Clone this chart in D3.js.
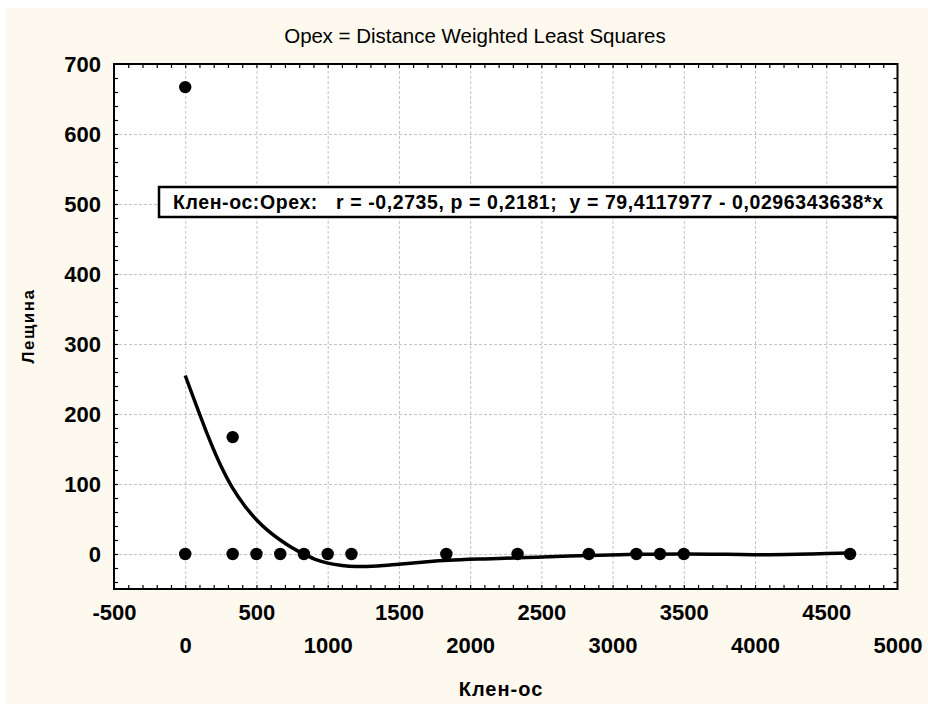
<!DOCTYPE html>
<html><head><meta charset="utf-8">
<script src="https://cdn.jsdelivr.net/npm/d3@7"></script>
<style>body{margin:0;background:#fff}svg{display:block}</style>
</head><body><svg id="c" width="928" height="704"></svg>
<script>
// ---- data ----
const chartTitle = "Орех = Distance Weighted Least Squares";
const xTitle = "Клен-ос";
const yTitle = "Лещина";
const legendText = "Клен-ос:Орех:   r = -0,2735, p = 0,2181;  y = 79,4117977 - 0,0296343638*x";
const pointsX = [0, 0, 333, 333, 500, 667, 833, 1000, 1167, 1833, 2333, 2833, 3167, 3333, 3500, 4667];
const pointsY = [667, 0, 167, 0, 0, 0, 0, 0, 0, 0, 0, 0, 0, 0, 0, 0];
const fitX = [0, 169, 250, 333, 417, 500, 583, 667, 750, 833, 917, 1000, 1100, 1200, 1350, 1500, 1700, 1850, 2100, 2333, 2600, 2833, 3167, 3500, 3800, 4100, 4400, 4667];
const fitY = [255, 164, 126, 94, 69, 49, 33, 20, 9, 0, -8, -13, -16.5, -18, -17, -14.5, -11, -9, -7, -5.5, -3.5, -2, -0.5, 0, -0.5, -1, 0, 1.5];
const xTicksRow1 = [-500, 500, 1500, 2500, 3500, 4500];
const xTicksRow2 = [0, 1000, 2000, 3000, 4000, 5000];
const yTicks = [0, 100, 200, 300, 400, 500, 600, 700];

// ---- layout ----
const svg = d3.select("#c");
const L = 114, R = 897.5, T = 64, B = 589;
const x = d3.scaleLinear().domain([-500, 5000]).range([L, R]);
const y = d3.scaleLinear().domain([-50, 700]).range([B, T]);
const FONT = "Liberation Sans, Arial, sans-serif";
const fmt = d => String(d);

svg.append("rect").attr("x", 0).attr("y", 0).attr("width", 928).attr("height", 704).attr("fill", "#ffffff");
svg.append("rect").attr("x", 6).attr("y", 8).attr("width", 922).attr("height", 696).attr("fill", "#fdf9ee");
svg.append("rect").attr("x", L).attr("y", T).attr("width", R - L).attr("height", B - T).attr("fill", "#ffffff");

// grid
const xGrid = d3.range(0, 5000, 500);
const grid = svg.append("g");
grid.append("g").attr("transform", `translate(0,${B})`)
  .call(d3.axisBottom(x).tickValues(xGrid).tickSize(-(B - T)).tickFormat(""))
  .call(g => g.select(".domain").remove())
  .call(g => g.selectAll("line").attr("stroke", "#c4c4c4").attr("stroke-dasharray", "3,2"));
grid.append("g").attr("transform", `translate(${L},0)`)
  .call(d3.axisLeft(y).tickValues(yTicks).tickSize(-(R - L)).tickFormat(""))
  .call(g => g.select(".domain").remove())
  .call(g => g.selectAll("line").attr("stroke", "#c4c4c4").attr("stroke-dasharray", "3,2"));

// inward ticks on all four sides
const xMinor = d3.range(-400, 5000, 100);
const yMinor = d3.range(-40, 700, 20);
function tickStyle(g) { g.select(".domain").remove(); g.selectAll("line").attr("stroke", "#000").attr("stroke-width", 1.2); }
svg.append("g").attr("transform", `translate(0,${B})`).call(d3.axisTop(x).tickValues(xMinor).tickSize(4).tickFormat("")).call(tickStyle);
svg.append("g").attr("transform", `translate(0,${T})`).call(d3.axisBottom(x).tickValues(xMinor).tickSize(4).tickFormat("")).call(tickStyle);
svg.append("g").attr("transform", `translate(${L},0)`).call(d3.axisRight(y).tickValues(yMinor).tickSize(4).tickFormat("")).call(tickStyle);
svg.append("g").attr("transform", `translate(${R},0)`).call(d3.axisLeft(y).tickValues(yMinor).tickSize(4).tickFormat("")).call(tickStyle);

// clip
svg.append("clipPath").attr("id", "clip").append("rect").attr("x", L).attr("y", T).attr("width", R - L).attr("height", B - T);
const plot = svg.append("g").attr("clip-path", "url(#clip)");

// fit curve
const fit = fitX.map((v, i) => [v, fitY[i]]);
plot.append("path").datum(fit)
  .attr("fill", "none").attr("stroke", "#000").attr("stroke-width", 3.5).attr("stroke-linecap", "butt")
  .attr("d", d3.line().x(d => x(d[0])).y(d => y(d[1])).curve(d3.curveCatmullRom.alpha(0.5)));

// points
plot.selectAll("circle.pt").data(pointsX.map((v, i) => [v, pointsY[i]])).join("circle")
  .attr("class", "pt").attr("cx", d => x(d[0])).attr("cy", d => y(d[1])).attr("r", 6.2).attr("fill", "#000");

// legend box
const lg = plot.append("g");
lg.append("rect").attr("x", 159).attr("y", 187).attr("width", 760).attr("height", 30)
  .attr("fill", "#fff").attr("stroke", "#000").attr("stroke-width", 2.5);
lg.append("text").attr("x", 173).attr("y", 208.5)
  .attr("font-family", FONT).attr("font-weight", "bold").attr("font-size", 19.5)
  .attr("textLength", 710).attr("lengthAdjust", "spacing")
  .style("white-space", "pre").attr("xml:space", "preserve").attr("fill", "#000")
  .text(legendText);

// border
svg.append("rect").attr("x", L).attr("y", T).attr("width", R - L).attr("height", B - T)
  .attr("fill", "none").attr("stroke", "#000").attr("stroke-width", 2);

// y labels
svg.append("g").attr("transform", `translate(${L},0)`)
  .call(d3.axisLeft(y).tickValues(yTicks).tickSize(0).tickPadding(13).tickFormat(fmt))
  .call(g => g.select(".domain").remove())
  .call(g => g.selectAll("text").attr("font-family", FONT)
    .attr("font-weight", "bold").attr("font-size", 22).attr("fill", "#000"));

// x labels (two staggered rows)
function xRow(vals, baseline) {
  svg.append("g").attr("transform", `translate(0,${B})`)
    .call(d3.axisBottom(x).tickValues(vals).tickSize(0).tickFormat(fmt))
    .call(g => g.select(".domain").remove())
    .call(g => g.selectAll("text").attr("y", baseline - B).attr("dy", 0)
      .attr("font-family", FONT)
      .attr("font-weight", "bold").attr("font-size", 22).attr("fill", "#000"));
}
xRow(xTicksRow1, 620);
xRow(xTicksRow2, 653);

// titles
svg.append("text").attr("x", 475).attr("y", 42.5).attr("text-anchor", "middle")
  .attr("font-family", FONT).attr("font-size", 20.5).attr("fill", "#000")
  .text(chartTitle);
svg.append("text").attr("x", 501).attr("y", 696).attr("text-anchor", "middle")
  .attr("font-family", FONT).attr("font-weight", "bold").attr("font-size", 20)
  .attr("letter-spacing", 1).attr("fill", "#000").text(xTitle);
svg.append("text").attr("transform", "translate(34,326) rotate(-90)").attr("text-anchor", "middle")
  .attr("font-family", FONT).attr("font-weight", "bold").attr("font-size", 17)
  .attr("letter-spacing", 1.5).attr("fill", "#000").text(yTitle);
</script></body></html>
